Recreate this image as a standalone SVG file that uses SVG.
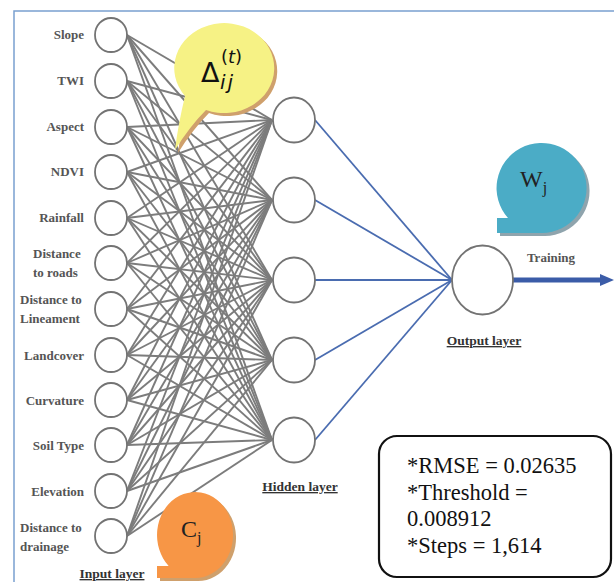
<svg xmlns="http://www.w3.org/2000/svg" width="614" height="582" viewBox="0 0 614 582">
<defs>
<style>
.lbl{font-family:"Liberation Serif","Times New Roman",serif;font-weight:bold;font-size:13px;fill:#555}
.end{text-anchor:end}
.layer{font-family:"Liberation Serif","Times New Roman",serif;font-weight:bold;font-size:13.5px;fill:#333;text-anchor:middle;text-decoration:underline}
.in line{stroke:#7c7c7c;stroke-width:1.9}
.out line{stroke:#4a6cb0;stroke-width:1.8}
.node{fill:#fff;stroke:#737373;stroke-width:1.8}
.stat{font-family:"Liberation Serif","Times New Roman",serif;font-size:22.5px;fill:#111}
.bub{font-family:"Liberation Serif","Times New Roman",serif;fill:#222}
.math{font-family:"DejaVu Sans",sans-serif;fill:#111}
</style>
<marker id="arr" markerWidth="14" markerHeight="14" refX="0" refY="7" orient="auto" markerUnits="userSpaceOnUse"><path d="M0,1 L14,7 L0,13 z" fill="#3b5ca8"/></marker>
</defs>
<rect width="614" height="582" fill="#fff"/>
<g id="frame" fill="none" stroke="#7aa0d0" stroke-width="1.5">
<path d="M614,11 H14 V582"/>
</g>
<g id="connectors">
<g class="in">
<line x1="127" y1="35" x2="272" y2="120"/><line x1="127" y1="35" x2="272" y2="200"/><line x1="127" y1="35" x2="272" y2="280"/><line x1="127" y1="35" x2="272" y2="360"/><line x1="127" y1="35" x2="272" y2="440"/>
<line x1="127" y1="81" x2="272" y2="120"/><line x1="127" y1="81" x2="272" y2="200"/><line x1="127" y1="81" x2="272" y2="280"/><line x1="127" y1="81" x2="272" y2="360"/><line x1="127" y1="81" x2="272" y2="440"/>
<line x1="127" y1="127" x2="272" y2="120"/><line x1="127" y1="127" x2="272" y2="200"/><line x1="127" y1="127" x2="272" y2="280"/><line x1="127" y1="127" x2="272" y2="360"/><line x1="127" y1="127" x2="272" y2="440"/>
<line x1="127" y1="172" x2="272" y2="120"/><line x1="127" y1="172" x2="272" y2="200"/><line x1="127" y1="172" x2="272" y2="280"/><line x1="127" y1="172" x2="272" y2="360"/><line x1="127" y1="172" x2="272" y2="440"/>
<line x1="127" y1="218" x2="272" y2="120"/><line x1="127" y1="218" x2="272" y2="200"/><line x1="127" y1="218" x2="272" y2="280"/><line x1="127" y1="218" x2="272" y2="360"/><line x1="127" y1="218" x2="272" y2="440"/>
<line x1="127" y1="263" x2="272" y2="120"/><line x1="127" y1="263" x2="272" y2="200"/><line x1="127" y1="263" x2="272" y2="280"/><line x1="127" y1="263" x2="272" y2="360"/><line x1="127" y1="263" x2="272" y2="440"/>
<line x1="127" y1="309" x2="272" y2="120"/><line x1="127" y1="309" x2="272" y2="200"/><line x1="127" y1="309" x2="272" y2="280"/><line x1="127" y1="309" x2="272" y2="360"/><line x1="127" y1="309" x2="272" y2="440"/>
<line x1="127" y1="355" x2="272" y2="120"/><line x1="127" y1="355" x2="272" y2="200"/><line x1="127" y1="355" x2="272" y2="280"/><line x1="127" y1="355" x2="272" y2="360"/><line x1="127" y1="355" x2="272" y2="440"/>
<line x1="127" y1="400" x2="272" y2="120"/><line x1="127" y1="400" x2="272" y2="200"/><line x1="127" y1="400" x2="272" y2="280"/><line x1="127" y1="400" x2="272" y2="360"/><line x1="127" y1="400" x2="272" y2="440"/>
<line x1="127" y1="445" x2="272" y2="120"/><line x1="127" y1="445" x2="272" y2="200"/><line x1="127" y1="445" x2="272" y2="280"/><line x1="127" y1="445" x2="272" y2="360"/><line x1="127" y1="445" x2="272" y2="440"/>
<line x1="127" y1="491" x2="272" y2="120"/><line x1="127" y1="491" x2="272" y2="200"/><line x1="127" y1="491" x2="272" y2="280"/><line x1="127" y1="491" x2="272" y2="360"/><line x1="127" y1="491" x2="272" y2="440"/>
<line x1="127" y1="536" x2="272" y2="120"/><line x1="127" y1="536" x2="272" y2="200"/><line x1="127" y1="536" x2="272" y2="280"/><line x1="127" y1="536" x2="272" y2="360"/><line x1="127" y1="536" x2="272" y2="440"/>
</g>
<g class="out">
<line x1="315" y1="120" x2="452" y2="280"/><line x1="315" y1="200" x2="452" y2="280"/><line x1="315" y1="280" x2="452" y2="280"/><line x1="315" y1="360" x2="452" y2="280"/><line x1="315" y1="440" x2="452" y2="280"/>
</g>
<line id="training-arrow" x1="513" y1="280" x2="600" y2="280" stroke="#3b5ca8" stroke-width="5" marker-end="url(#arr)"/>
</g>
<g id="input-layer">
<g id="in-slope"><ellipse class="node" cx="111" cy="35" rx="16" ry="17"/><text class="lbl end" x="84" y="39">Slope</text></g>
<g id="in-twi"><ellipse class="node" cx="111" cy="81" rx="16" ry="17"/><text class="lbl end" x="84" y="85">TWI</text></g>
<g id="in-aspect"><ellipse class="node" cx="111" cy="127" rx="16" ry="17"/><text class="lbl end" x="84" y="131">Aspect</text></g>
<g id="in-ndvi"><ellipse class="node" cx="111" cy="172" rx="16" ry="17"/><text class="lbl end" x="84" y="176">NDVI</text></g>
<g id="in-rainfall"><ellipse class="node" cx="111" cy="218" rx="16" ry="17"/><text class="lbl end" x="84" y="222">Rainfall</text></g>
<g id="in-roads"><ellipse class="node" cx="111" cy="263" rx="16" ry="17"/><text class="lbl" x="33" y="258">Distance</text><text class="lbl" x="33" y="277">to roads</text></g>
<g id="in-lineament"><ellipse class="node" cx="111" cy="309" rx="16" ry="17"/><text class="lbl" x="20" y="304">Distance to</text><text class="lbl" x="20" y="323">Lineament</text></g>
<g id="in-landcover"><ellipse class="node" cx="111" cy="355" rx="16" ry="17"/><text class="lbl end" x="84" y="360">Landcover</text></g>
<g id="in-curvature"><ellipse class="node" cx="111" cy="400" rx="16" ry="17"/><text class="lbl end" x="84" y="405">Curvature</text></g>
<g id="in-soil"><ellipse class="node" cx="111" cy="445" rx="16" ry="17"/><text class="lbl end" x="84" y="450">Soil Type</text></g>
<g id="in-elevation"><ellipse class="node" cx="111" cy="491" rx="16" ry="17"/><text class="lbl end" x="84" y="496">Elevation</text></g>
<g id="in-drainage"><ellipse class="node" cx="111" cy="536" rx="16" ry="17"/><text class="lbl" x="20" y="532">Distance to</text><text class="lbl" x="20" y="551">drainage</text></g>
<text class="layer" x="112" y="578">Input layer</text>
</g>
<g id="hidden-layer">
<ellipse id="h1" class="node" cx="294" cy="120" rx="21" ry="22.5"/>
<ellipse id="h2" class="node" cx="294" cy="200" rx="21" ry="22.5"/>
<ellipse id="h3" class="node" cx="294" cy="280" rx="21" ry="22.5"/>
<ellipse id="h4" class="node" cx="294" cy="360" rx="21" ry="22.5"/>
<ellipse id="h5" class="node" cx="294" cy="440" rx="21" ry="22.5"/>
<text class="layer" x="300" y="491">Hidden layer</text>
</g>
<g id="output-layer">
<ellipse id="o1" class="node" cx="482.5" cy="280" rx="30.5" ry="34.5"/>
<text class="layer" x="484" y="345">Output layer</text>
<text class="lbl" x="551" y="262" text-anchor="middle" font-size="12.5">Training</text>
</g>
<g id="bubble-delta">
<path d="M185,96 Q178,125 175,150 Q190,126 206,110 A50 45 0 1 0 185,96 Z" fill="#cfa06c" transform="translate(3,3)"/>
<path d="M185,96 Q178,125 175,150 Q190,126 206,110 A50 45 0 1 0 185,96 Z" fill="#f6f285"/>
<text class="math" x="201" y="82" font-size="27">Δ</text>
<text class="math" x="221" y="63" font-size="18">(<tspan font-style="italic">t</tspan>)</text>
<text class="math" x="220" y="89" font-size="20" font-style="italic" letter-spacing="2">ij</text>
</g>
<g id="bubble-w">
<path d="M542,233 L497,233 L497,218 L508,218 A45 45 0 1 1 542,233 Z" fill="#8fa4ad" transform="translate(3,3)"/>
<path d="M542,233 L497,233 L497,218 L508,218 A45 45 0 1 1 542,233 Z" fill="#4bacc6"/>
<text class="bub" x="520" y="187" font-size="24">W<tspan font-size="16" dy="6">j</tspan></text>
</g>
<g id="bubble-c">
<path d="M195,578 L157,578 L157,566 L168.7,566 A38 43 0 1 1 195,578 Z" fill="#cfa06c" transform="translate(3,3)"/>
<path d="M195,578 L157,578 L157,566 L168.7,566 A38 43 0 1 1 195,578 Z" fill="#f79646"/>
<text class="bub" x="181" y="537" font-size="24">C<tspan font-size="16" dy="6">j</tspan></text>
</g>
<g id="stats-box">
<rect x="379" y="436" width="232" height="141" rx="18" fill="#fff" stroke="#111" stroke-width="2.2"/>
<text class="stat" x="407" y="473">*RMSE = 0.02635</text>
<text class="stat" x="407" y="499.5">*Threshold =</text>
<text class="stat" x="407" y="526">0.008912</text>
<text class="stat" x="407" y="552.5">*Steps = 1,614</text>
</g>
</svg>
